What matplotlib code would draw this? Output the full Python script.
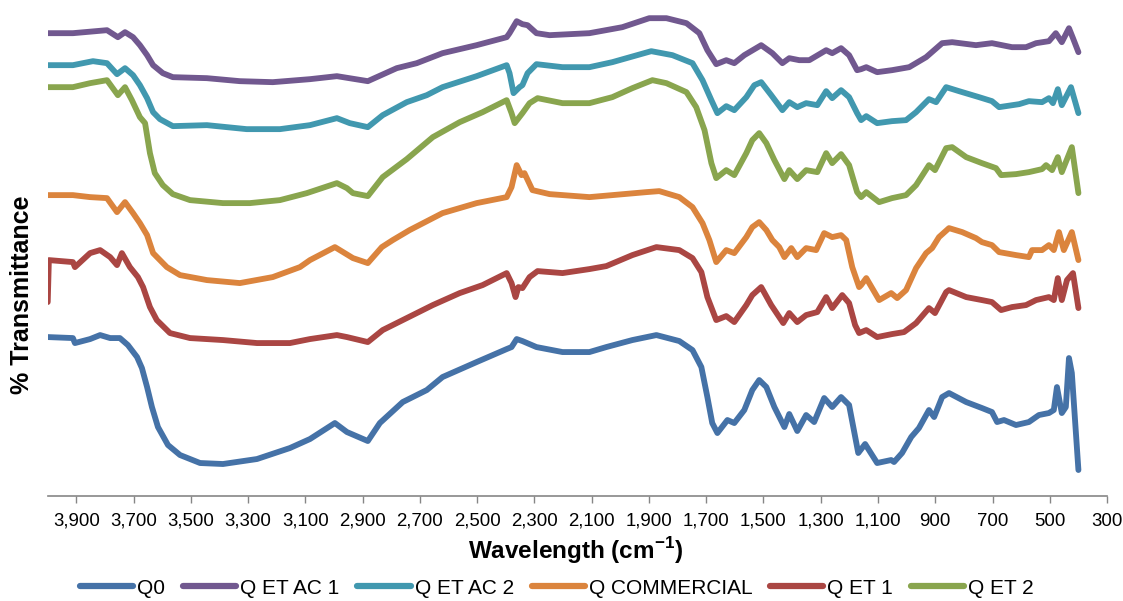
import matplotlib
matplotlib.use("Agg")
import matplotlib.pyplot as plt
from matplotlib.ticker import FuncFormatter

plt.rcParams['font.family'] = ['Liberation Sans', 'DejaVu Sans']
plt.rcParams['mathtext.fontset'] = 'custom'
plt.rcParams['mathtext.rm'] = 'Liberation Sans'
plt.rcParams['mathtext.bf'] = 'Liberation Sans:bold'
plt.rcParams['axes.unicode_minus'] = False

series_names = ["Q0", "Q ET AC 1", "Q ET AC 2", "Q COMMERCIAL", "Q ET 1", "Q ET 2"]
colors = ["#4572A7", "#71588F", "#4198AF", "#DB843D", "#AA4643", "#89A54E"]

# Q0
q0_w = [4000, 3912, 3905, 3852, 3817, 3782, 3748, 3720, 3688, 3671, 3653, 3636, 3615, 3580, 3538, 3468,
        3388, 3269, 3154, 3084, 2997, 2955, 2882, 2840, 2760, 2676, 2621, 2502, 2397, 2380, 2362, 2342,
        2293, 2202, 2108, 2049, 1958, 1874, 1794, 1748, 1717, 1696, 1679, 1661, 1626, 1602, 1567, 1539,
        1515, 1490, 1462, 1427, 1410, 1382, 1351, 1323, 1288, 1260, 1229, 1201, 1169, 1145, 1103, 1054,
        1044, 1016, 984, 957, 922, 904, 876, 852, 792, 737, 702, 684, 660, 618, 573, 538, 503, 486, 475,
        458, 444, 433, 423, 400]
q0_t = [31.8, 31.6, 30.6, 31.4, 32.2, 31.6, 31.6, 30.2, 27.8, 25.6, 21.8, 17.8, 13.8, 10.2, 8.2, 6.6,
        6.4, 7.4, 9.6, 11.4, 14.6, 12.8, 11.0, 14.6, 18.8, 21.2, 23.8, 26.8, 29.4, 29.8, 31.4, 31.0,
        29.8, 28.8, 28.8, 29.8, 31.2, 32.2, 31.0, 29.2, 25.8, 19.8, 14.6, 12.6, 15.2, 14.6, 17.2, 21.2,
        23.2, 21.8, 17.8, 13.8, 16.4, 13.0, 16.2, 14.8, 19.6, 17.8, 19.8, 18.2, 8.6, 10.4, 6.6, 7.2,
        6.8, 8.6, 11.8, 13.6, 17.2, 15.8, 19.8, 20.6, 18.8, 17.6, 16.8, 14.8, 15.2, 14.2, 14.8, 16.2, 16.6, 17.2, 21.8,
        16.6, 17.8, 27.6, 24.6, 5.2]

# Q ET AC 1
ac1_w = [4000, 3912, 3793, 3755, 3730, 3702, 3678, 3653, 3632, 3598, 3563, 3444, 3329, 3214, 3084, 2990,
         2882, 2851, 2781, 2711, 2621, 2502, 2397, 2387, 2362, 2342, 2324, 2293, 2247, 2108, 1993, 1899,
         1839, 1769, 1724, 1696, 1665, 1630, 1602, 1567, 1508, 1469, 1434, 1410, 1375, 1340, 1281, 1260,
         1229, 1201, 1173, 1159, 1141, 1103, 1051, 991, 932, 904, 876, 841, 758, 702, 632, 583, 548, 503,
         479, 458, 433, 419, 400]
ac1_t = [92.6, 92.6, 93.2, 91.8, 92.8, 91.8, 90.2, 88.2, 86.2, 84.6, 83.8, 83.6, 83.0, 82.8, 83.4, 84.0,
         83.0, 83.8, 85.6, 86.6, 88.6, 90.2, 91.8, 92.6, 95.0, 94.4, 94.2, 92.6, 92.2, 92.6, 93.8, 95.6,
         95.6, 94.6, 92.6, 89.2, 86.4, 87.2, 86.6, 88.2, 90.2, 88.6, 86.6, 87.6, 87.2, 87.2, 89.2, 88.6,
         89.6, 88.2, 85.2, 85.4, 85.8, 84.8, 85.2, 85.8, 87.8, 89.2, 90.6, 90.8, 90.2, 90.6, 89.8, 89.8, 90.6, 91.0,
         92.6, 90.8, 93.6, 91.6, 88.8]

# Q ET AC 2
ac2_w = [4000, 3912, 3842, 3793, 3758, 3730, 3702, 3678, 3653, 3632, 3608, 3563, 3444, 3305, 3189, 3084,
         2990, 2945, 2882, 2830, 2746, 2676, 2621, 2502, 2397, 2387, 2373, 2352, 2342, 2324, 2293, 2202,
         2108, 2028, 1892, 1818, 1748, 1713, 1682, 1661, 1630, 1602, 1560, 1532, 1508, 1473, 1434, 1410,
         1382, 1351, 1312, 1281, 1260, 1229, 1201, 1173, 1159, 1141, 1103, 1051, 1002, 967, 922, 897, 862,
         817, 747, 702, 677, 607, 573, 527, 503, 489, 472, 458, 426, 400]
ac2_t = [86.2, 86.2, 87.0, 86.6, 84.4, 85.6, 84.2, 82.2, 79.6, 76.8, 75.4, 74.0, 74.2, 73.4, 73.4, 74.2,
         75.6, 74.6, 73.8, 76.2, 78.8, 80.2, 81.8, 84.0, 86.2, 84.6, 80.6, 81.8, 82.2, 84.6, 86.4, 85.8,
         85.8, 86.8, 89.0, 88.2, 86.6, 83.2, 79.2, 76.6, 78.0, 77.2, 79.8, 82.2, 82.8, 80.2, 77.2, 78.8,
         77.8, 78.6, 78.2, 81.0, 79.6, 81.2, 79.8, 76.6, 75.2, 76.0, 74.6, 75.0, 75.2, 76.8, 79.4, 78.8, 81.8,
         81.0, 79.8, 79.0, 77.8, 78.4, 79.0, 78.8, 79.6, 78.6, 81.4, 78.2, 81.8, 76.6]

# Q COMMERCIAL
com_w = [4000, 3912, 3852, 3793, 3758, 3730, 3702, 3678, 3653, 3632, 3584, 3538, 3444, 3329, 3214, 3119,
         3084, 2997, 2934, 2882, 2833, 2795, 2736, 2621, 2502, 2397, 2380, 2362, 2345, 2335, 2307, 2247,
         2108, 2028, 1909, 1864, 1794, 1748, 1713, 1689, 1665, 1630, 1602, 1560, 1539, 1515, 1490, 1469,
         1445, 1427, 1403, 1382, 1351, 1316, 1288, 1260, 1229, 1211, 1190, 1166, 1159, 1141, 1096, 1054,
         1033, 1002, 967, 932, 911, 887, 852, 806, 758, 737, 702, 677, 618, 573, 562, 527, 503, 486, 468,
         451, 423, 400]
com_t = [60.2, 60.2, 59.8, 59.6, 56.8, 58.8, 56.6, 54.6, 52.2, 48.6, 45.8, 44.2, 43.2, 42.6, 43.8, 45.8,
         47.2, 49.8, 47.6, 46.6, 49.8, 51.2, 53.2, 56.6, 58.6, 59.8, 61.8, 66.2, 64.2, 64.6, 61.2, 60.4,
         59.8, 60.2, 60.8, 61.0, 59.8, 57.8, 54.6, 51.2, 46.8, 49.2, 48.6, 51.8, 53.8, 54.8, 53.2, 51.2,
         49.8, 47.8, 49.6, 47.8, 49.6, 49.2, 52.6, 51.8, 52.2, 51.2, 45.8, 41.8, 42.2, 43.6, 39.2, 40.6,
         39.6, 41.2, 45.6, 48.6, 49.6, 51.8, 53.6, 52.8, 51.6, 50.8, 50.2, 48.8, 48.2, 47.8, 49.2, 49.2, 50.2, 49.2, 52.8,
         49.2, 52.8, 47.2]

# Q ET 1
et1_w = [4000, 3996, 3912, 3905, 3852, 3817, 3782, 3758, 3741, 3713, 3685, 3667, 3643, 3619, 3573, 3503,
         3388, 3269, 3154, 3084, 2990, 2955, 2882, 2830, 2746, 2655, 2561, 2481, 2397, 2380, 2366, 2356,
         2342, 2317, 2289, 2202, 2108, 2049, 1958, 1874, 1794, 1748, 1717, 1696, 1665, 1630, 1602, 1560,
         1539, 1508, 1473, 1431, 1410, 1382, 1351, 1312, 1281, 1260, 1225, 1201, 1180, 1166, 1141, 1103,
         1051, 1009, 967, 922, 901, 862, 852, 792, 737, 702, 670, 632, 583, 548, 503, 486, 472, 458, 440,
         419, 400]
et1_t = [38.8, 47.2, 46.8, 45.8, 48.6, 49.2, 47.8, 46.2, 48.6, 45.8, 43.8, 41.8, 37.8, 35.2, 32.6, 31.6,
         31.2, 30.6, 30.6, 31.4, 32.2, 31.8, 30.8, 33.2, 35.6, 38.2, 40.6, 42.2, 44.6, 42.6, 39.8, 41.8,
         41.6, 43.8, 45.0, 44.6, 45.4, 46.0, 48.2, 49.8, 49.2, 47.6, 44.8, 39.8, 35.2, 36.0, 34.8, 38.2,
         40.2, 41.8, 38.2, 34.6, 36.6, 34.8, 36.2, 36.8, 39.8, 37.6, 40.2, 38.6, 34.2, 32.6, 33.2, 31.8,
         32.4, 32.8, 34.6, 37.6, 36.6, 40.8, 41.2, 39.8, 39.2, 38.8, 37.2, 37.8, 38.2, 39.2, 39.8, 39.2, 43.6, 39.2, 43.2,
         44.6, 37.6]

# Q ET 2
et2_w = [4000, 3912, 3852, 3793, 3755, 3730, 3706, 3678, 3660, 3643, 3626, 3598, 3563, 3503, 3388, 3294,
         3189, 3095, 2990, 2955, 2934, 2882, 2830, 2746, 2655, 2561, 2481, 2397, 2380, 2369, 2342, 2317,
         2289, 2202, 2108, 2028, 1958, 1888, 1839, 1769, 1735, 1706, 1682, 1665, 1630, 1602, 1560, 1539,
         1515, 1490, 1462, 1427, 1410, 1382, 1351, 1312, 1281, 1260, 1229, 1201, 1173, 1159, 1141, 1096,
         1051, 1002, 967, 922, 901, 862, 841, 792, 737, 688, 670, 618, 573, 527, 513, 492, 472, 458, 423, 400]
et2_t = [81.8, 81.8, 82.6, 83.2, 80.2, 81.8, 79.2, 75.8, 74.6, 68.6, 64.6, 62.2, 60.4, 59.2, 58.6, 58.6,
         59.2, 60.6, 62.6, 61.6, 60.6, 60.0, 63.8, 67.4, 71.8, 74.8, 76.8, 79.2, 76.6, 74.6, 76.6, 78.6,
         79.6, 78.6, 78.6, 79.8, 81.6, 83.2, 82.6, 80.8, 77.8, 73.2, 66.6, 63.6, 65.2, 64.2, 68.6, 71.2,
         72.6, 70.6, 67.2, 63.4, 65.2, 63.4, 65.2, 64.8, 68.6, 66.6, 68.4, 66.2, 60.8, 59.8, 60.8, 58.8,
         59.6, 60.2, 62.2, 66.2, 65.2, 69.6, 69.8, 67.8, 66.6, 65.6, 64.2, 64.4, 64.8, 65.4, 66.2, 65.2, 67.8, 64.8, 69.8, 60.6]

x_ticks = list(range(3900, 299, -200))

fig = plt.figure(figsize=(11.23, 6.01), dpi=100)
ax = fig.add_axes([0.0425, 0.1747, 0.9433, 0.815])

data = [(q0_w, q0_t), (ac1_w, ac1_t), (ac2_w, ac2_t), (com_w, com_t), (et1_w, et1_t), (et2_w, et2_t)]
for (w, t), name, c in zip(data, series_names, colors):
    ax.plot(w, t, color=c, lw=4.2, label=name, solid_joinstyle='round', solid_capstyle='round')

ax.set_xlim(4000, 300)
ax.set_ylim(0, 98)
ax.set_xticks(x_ticks)
ax.xaxis.set_major_formatter(FuncFormatter(lambda v, p: f"{int(v):,}"))
ax.tick_params(axis='x', direction='out', length=5, width=1, color='#868686', labelsize=13.4, pad=7)
ax.set_yticks([])
for s in ['left', 'top', 'right']:
    ax.spines[s].set_visible(False)
ax.spines['bottom'].set_color('#868686')
ax.spines['bottom'].set_linewidth(1.2)

fig.text(576 / 1123, 1 - 551 / 601, r"Wavelength (cm$^{\mathbf{-1}}$)", fontsize=17.5, fontweight='bold',
         ha='center', va='center')
fig.text(22 / 1123, 1 - 295 / 601, "% Transmittance", fontsize=18, fontweight='bold',
         rotation=90, ha='center', va='center')

leg = fig.legend(loc='center', bbox_to_anchor=(557 / 1123, 1 - 588 / 601), ncol=6, frameon=False,
                 fontsize=15, handlelength=2.55, handletextpad=0.2, columnspacing=0.85)
for line in leg.get_lines():
    line.set_linewidth(4.5)
    line.set_solid_capstyle('round')

fig.savefig("out.png", dpi=100)
